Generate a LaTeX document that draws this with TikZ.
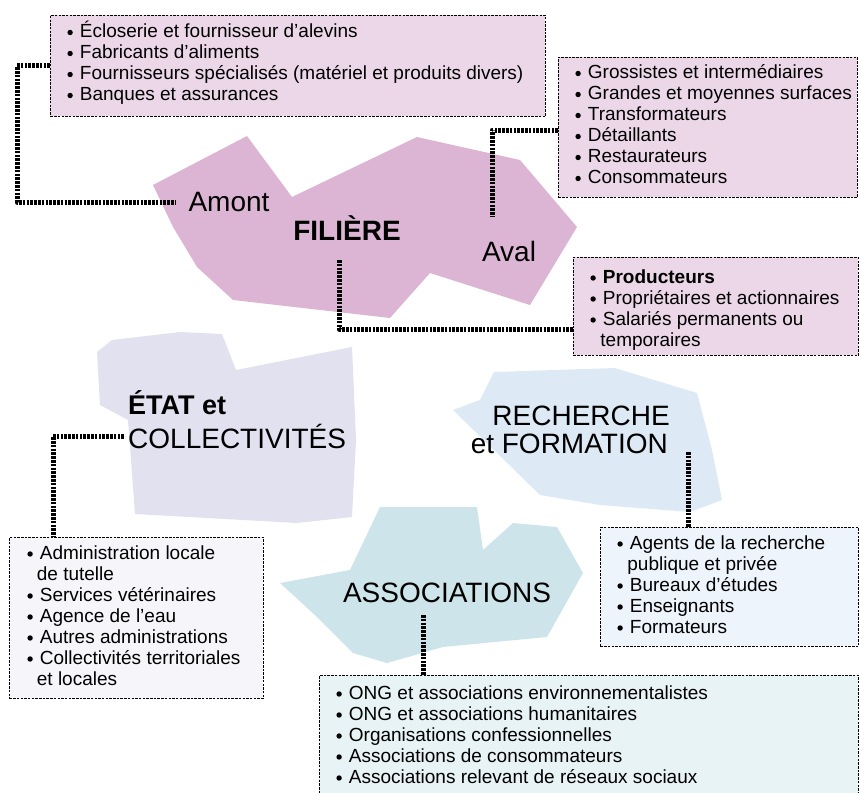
\documentclass[tikz,border=0pt]{standalone}
\usepackage{fontspec}
\setmainfont{Liberation Sans}
\definecolor{filpink}{RGB}{221,181,212}
\definecolor{boxpink}{RGB}{236,215,233}
\definecolor{etatlav}{RGB}{226,225,240}
\definecolor{boxlav}{RGB}{246,245,250}
\definecolor{rechblue}{RGB}{221,234,246}
\definecolor{boxblue}{RGB}{238,244,251}
\definecolor{assoteal}{RGB}{205,229,234}
\definecolor{boxteal}{RGB}{232,243,245}
\newcommand\bul{\makebox[12.5pt][l]{\tikz[baseline=0pt]\fill[black] (0pt,5.2pt) circle[radius=2.7pt];}}
\newcommand\tst{\rule{0pt}{18.5pt}}
\begin{document}
\begin{tikzpicture}[x=1pt,y=-1pt,
  conn/.style={line width=5pt, dash pattern=on 2.6pt off 1.2pt, line join=round},
  box/.style={draw=black, line width=0.8pt, dash pattern=on 2.5pt off 1.2pt, anchor=north west, inner sep=0pt},
  lst/.style={align=left, font=\fontsize{19}{21}\selectfont, inner sep=0pt, anchor=north west},
  big/.style={font=\fontsize{28}{30}\selectfont, inner sep=0pt},
  bigb/.style={font=\fontsize{27}{30}\selectfont\bfseries, inner sep=0pt}]
\useasboundingbox (0,0) rectangle (861,792);
\clip (0,0) rectangle (861,792);
% blobs
\fill[filpink] (153,185) -- (247,136) -- (292,197) -- (417,137) -- (520,160) -- (577,227) -- (530,305) -- (430,273) -- (390,318) -- (233,300) -- (197,267) -- (173,227) -- cycle;
\fill[etatlav] (97,352) -- (112,340) -- (180,332) -- (222,334) -- (236,370) -- (352,347) -- (356,440) -- (352,517) -- (297,523) -- (135,514) -- (128,420) -- (100,405) -- cycle;
\fill[rechblue] (453,410) -- (480,400) -- (494,372) -- (615,368) -- (697,393) -- (712,450) -- (722,500) -- (690,512) -- (600,505) -- (540,495) -- cycle;
\fill[assoteal] (280,583) -- (350,570) -- (380,507) -- (477,507) -- (483,550) -- (513,523) -- (557,527) -- (583,573) -- (547,637) -- (443,647) -- (387,663) -- (353,653) -- (317,617) -- cycle;
% boxes
\node[box, fill=boxpink, minimum width=495pt, minimum height=101pt] (bA) at (50,15) {};
\node[box, fill=boxpink, minimum width=299pt, minimum height=140pt] (bB) at (558,57) {};
\node[box, fill=boxpink, minimum width=285pt, minimum height=98pt] (bC) at (573,257) {};
\node[box, fill=boxlav, minimum width=254pt, minimum height=161pt] (bD) at (9,537) {};
\node[box, fill=boxblue, minimum width=258pt, minimum height=119pt] (bE) at (600,527) {};
\node[box, fill=boxteal, minimum width=539pt, minimum height=135pt] (bF) at (319,675) {};
% list texts
\node[lst] (tA) at (67.2,19) {\tst\bul Écloserie et fournisseur d'alevins\\ \bul Fabricants d'aliments\\ \bul Fournisseurs spécialisés (matériel et produits divers)\\ \bul Banques et assurances};
\node[lst] (tB) at (575.2,60) {\tst\bul Grossistes et intermédiaires\\ \bul Grandes et moyennes surfaces\\ \bul Transformateurs\\ \bul Détaillants\\ \bul Restaurateurs\\ \bul Consommateurs};
\node[lst] (tC) at (590.2,264.5) {\tst\bul\textbf{Producteurs}\\ \bul Propriétaires et actionnaires\\ \bul Salariés permanents ou\\ \hspace*{10pt}temporaires};
\node[lst] (tD) at (27.2,540.5) {\tst\bul Administration locale\\ \hspace*{9.5pt}de tutelle\\ \bul Services vétérinaires\\ \bul Agence de l'eau\\ \bul Autres administrations\\ \bul Collectivités territoriales\\ \hspace*{9.5pt}et locales};
\node[lst] (tE) at (617.2,530.5) {\tst\bul Agents de la recherche\\ \hspace*{10pt}publique et privée\\ \bul Bureaux d'études\\ \bul Enseignants\\ \bul Formateurs};
\node[lst] (tF) at (336.2,680.5) {\tst\bul ONG et associations environnementalistes\\ \bul ONG et associations humanitaires\\ \bul Organisations confessionnelles\\ \bul Associations de consommateurs\\ \bul Associations relevant de réseaux sociaux};
% big labels
\node[big] (amont) at (229,202) {Amont};
\node[bigb, font=\fontsize{28}{30}\selectfont\bfseries, anchor=base] (filiere) at (347,240) {FILIÈRE};
\node[big] (aval) at (509,251) {Aval};
\node[bigb, anchor=base west] (etat) at (128,414) {ÉTAT et};
\node[big, anchor=base west] (collect) at (128,448) {COLLECTIVITÉS};
\node[big, anchor=base east] (rech) at (670,425) {RECHERCHE};
\node[big, anchor=base east] (form) at (668,453) {et FORMATION};
\node[big] (assoc) at (447,593) {ASSOCIATIONS};
% connector helper coordinates
\coordinate (k1) at (17,0);
\coordinate (k2a) at (0,130);
\coordinate (k2) at (492,217);
\coordinate (k3) at (339,260);
\coordinate (k3b) at (0,329);
\coordinate (k4) at (53,0);
\coordinate (k5) at (688,452);
\coordinate (k6) at (423,615);
% connectors
\draw[conn] (bA.west) -- (bA.west -| k1) |- ([xshift=-12pt]amont.west);
\draw[conn] (bB.west |- k2a) -| (k2);
\draw[conn] (k3) |- (bC.west |- k3b);
\draw[conn] ([xshift=-4pt]collect.west) -| (bD.north -| k4);
\draw[conn] (k5) -- (bE.north -| k5);
\draw[conn] (k6) -- (bF.north -| k6);
\end{tikzpicture}
\end{document}
